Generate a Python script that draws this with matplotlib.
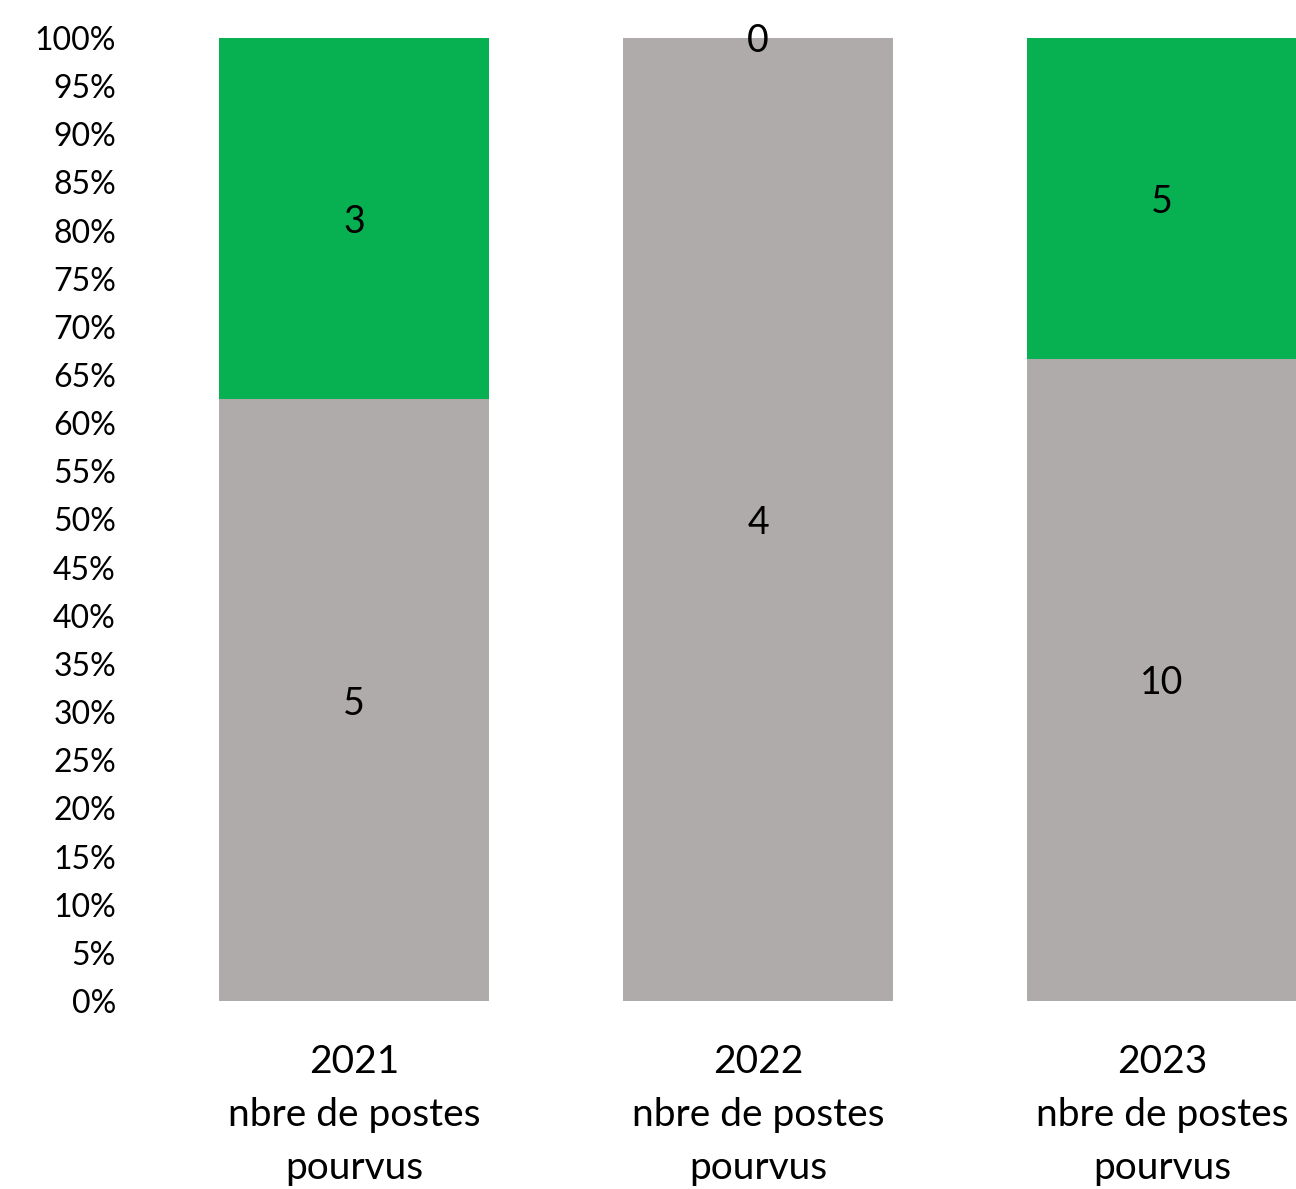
import matplotlib
matplotlib.use("Agg")
import matplotlib.pyplot as plt
import numpy as np

categories = ["2021\nnbre de postes\npourvus", "2022\nnbre de postes\npourvus", "2023\nnbre de postes\npourvus"]
grey_values = [5, 4, 10]
green_values = [3, 0, 5]
ytick_labels = [f"{v}%" for v in range(0, 101, 5)]

plt.rcParams['font.family'] = ['Lato', 'DejaVu Sans']

fig = plt.figure(figsize=(12.96, 11.89), dpi=100)
ax = fig.add_axes([152/1296, 1 - 1001/1189, 1 - 152/1296, (1001 - 38)/1189])

grey = np.array(grey_values, dtype=float)
green = np.array(green_values, dtype=float)
tot = grey + green
gp = grey / tot * 100
gr = green / tot * 100
x = np.arange(len(categories))
w = 0.668
ax.bar(x, gp, width=w, color="#AFABAB")
ax.bar(x, gr, width=w, bottom=gp, color="#07B050")
for i in range(len(x)):
    ax.text(x[i], gp[i] / 2, str(grey_values[i]), ha='center', va='center_baseline',
            fontsize=27, clip_on=False)
    ax.text(x[i], gp[i] + gr[i] / 2, str(green_values[i]), ha='center', va='center_baseline',
            fontsize=27, clip_on=False)

ax.set_xlim(-0.5, (1296 - 354) / 404)
ax.set_ylim(0, 100)
ax.set_yticks(range(0, 101, 5))
ax.set_yticklabels(ytick_labels, fontsize=23)
ax.set_xticks(x)
ax.set_xticklabels(categories, fontsize=28, linespacing=1.58)
ax.tick_params(axis='y', length=0, pad=26)
ax.tick_params(axis='x', length=0, pad=31)
for s in ax.spines.values():
    s.set_visible(False)

fig.savefig("out.png", dpi=100)
